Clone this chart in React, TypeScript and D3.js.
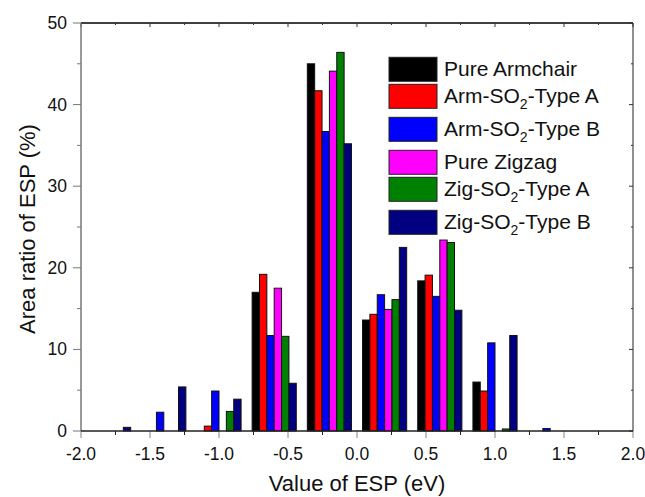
import React, { useRef, useEffect } from "react";
import * as d3 from "d3";

// bin centres of the ESP histogram (eV)
const bins = [-1.8, -1.4, -1.0, -0.6, -0.2, 0.2, 0.6, 1.0, 1.4];

const pureArmchair = [0, 0, 0, 17.0, 45.0, 13.6, 18.4, 6.0, 0];
const armTypeA = [0, 0, 0.6, 19.2, 41.7, 14.3, 19.1, 4.9, 0];
const armTypeB = [0, 2.3, 4.9, 11.7, 36.7, 16.7, 16.5, 10.8, 0.3];
const pureZigzag = [0, 0, 0, 17.5, 44.1, 14.9, 23.4, 0, 0];
const zigTypeA = [0, 0, 2.4, 11.6, 46.4, 16.1, 23.1, 0.25, 0];
const zigTypeB = [0.45, 5.4, 3.9, 5.85, 35.2, 22.5, 14.8, 11.7, 0];

const xTicks = [-2.0, -1.5, -1.0, -0.5, 0.0, 0.5, 1.0, 1.5, 2.0];
const yTicks = [0, 10, 20, 30, 40, 50];

interface Series {
  pre: string;
  sub?: string;
  post?: string;
  color: string;
  values: number[];
}

const series: Series[] = [
  { pre: "Pure Armchair", color: "#000000", values: pureArmchair },
  { pre: "Arm-SO", sub: "2", post: "-Type A", color: "#ff0000", values: armTypeA },
  { pre: "Arm-SO", sub: "2", post: "-Type B", color: "#0000ff", values: armTypeB },
  { pre: "Pure Zigzag", color: "#ff00ff", values: pureZigzag },
  { pre: "Zig-SO", sub: "2", post: "-Type A", color: "#008000", values: zigTypeA },
  { pre: "Zig-SO", sub: "2", post: "-Type B", color: "#000080", values: zigTypeB },
];

const W = 645;
const H = 497;
const margin = { left: 81, right: 12, top: 23, bottom: 66 };
const FONT = "'Liberation Sans', Arial, sans-serif";

export default function App() {
  const svgRef = useRef<SVGSVGElement>(null);

  useEffect(() => {
    if (!svgRef.current) return;
    const svg = d3.select(svgRef.current);
    svg.selectAll("*").remove();

    const x = d3
      .scaleLinear()
      .domain([-2, 2])
      .range([margin.left, W - margin.right]);
    const y = d3
      .scaleLinear()
      .domain([0, 50])
      .range([H - margin.bottom, margin.top]);

    // 80% of each 0.4 eV bin is filled by the 6 bars
    const groupPx = x(0.4 * 0.8) - x(0);
    const sub = d3
      .scaleBand<number>()
      .domain(series.map((_, i) => i))
      .range([-groupPx / 2, groupPx / 2]);

    const x0 = margin.left;
    const x1 = W - margin.right;
    const y0 = H - margin.bottom;
    const y1 = margin.top;

    // bars
    series.forEach((s, si) => {
      svg
        .append("g")
        .selectAll("rect")
        .data(s.values.map((v, i) => ({ v, b: bins[i] })).filter((d) => d.v > 0))
        .enter()
        .append("rect")
        .attr("x", (d) => x(d.b) + (sub(si) as number))
        .attr("y", (d) => y(d.v))
        .attr("width", sub.bandwidth())
        .attr("height", (d) => y(0) - y(d.v))
        .attr("fill", s.color)
        .attr("stroke", "#111")
        .attr("stroke-width", 1);
    });

    // frame
    svg.append("line").attr("x1", x0).attr("x2", x1).attr("y1", y1).attr("y2", y1)
      .attr("stroke", "#000").attr("stroke-width", 1.3);
    svg.append("line").attr("x1", x1).attr("x2", x1).attr("y1", y1).attr("y2", y0)
      .attr("stroke", "#555").attr("stroke-width", 1.3);

    // major + minor ticks
    const xMinor = d3.range(-2, 2.001, 0.25);
    const yMinor = d3.range(0, 50.001, 5);

    const ax = svg.append("g");
    xMinor.forEach((v) => {
      const major = Math.abs(v * 2 - Math.round(v * 2)) < 1e-6;
      ax.append("line")
        .attr("x1", x(v)).attr("x2", x(v))
        .attr("y1", y0).attr("y2", y0 + (major ? 7 : 4))
        .attr("stroke", major ? "#888" : "#222").attr("stroke-width", 1);
      ax.append("line")
        .attr("x1", x(v)).attr("x2", x(v))
        .attr("y1", y1).attr("y2", y1 + (major ? 4 : 2))
        .attr("stroke", "#333").attr("stroke-width", 1);
    });
    yMinor.forEach((v) => {
      const major = v % 10 === 0;
      ax.append("line")
        .attr("x1", x0 - (major ? 8 : 4)).attr("x2", x0)
        .attr("y1", y(v)).attr("y2", y(v))
        .attr("stroke", "#777").attr("stroke-width", 1);
      ax.append("line")
        .attr("x1", x1 - (major ? 4 : 2)).attr("x2", x1)
        .attr("y1", y(v)).attr("y2", y(v))
        .attr("stroke", "#333").attr("stroke-width", 1);
    });

    // axis lines
    svg.append("line").attr("x1", x0).attr("x2", x0).attr("y1", y1).attr("y2", y0)
      .attr("stroke", "#777").attr("stroke-width", 1.5);
    svg.append("line").attr("x1", x0).attr("x2", x1).attr("y1", y0).attr("y2", y0)
      .attr("stroke", "#222").attr("stroke-width", 1.5);

    // tick labels
    svg
      .append("g")
      .selectAll("text")
      .data(xTicks)
      .enter()
      .append("text")
      .attr("x", (d) => x(d))
      .attr("y", y0 + 29)
      .attr("text-anchor", "middle")
      .style("font-family", FONT)
      .style("font-size", "17.5px")
      .attr("fill", "#111")
      .text((d) => d.toFixed(1));

    svg
      .append("g")
      .selectAll("text")
      .data(yTicks)
      .enter()
      .append("text")
      .attr("x", x0 - 14)
      .attr("y", (d) => y(d) + 6)
      .attr("text-anchor", "end")
      .style("font-family", FONT)
      .style("font-size", "17.5px")
      .attr("fill", "#111")
      .text((d) => String(d));

    // axis titles
    svg
      .append("text")
      .attr("x", (x0 + x1) / 2)
      .attr("y", 491)
      .attr("text-anchor", "middle")
      .style("font-family", FONT)
      .style("font-size", "22px")
      .attr("fill", "#111")
      .text("Value of ESP (eV)");

    svg
      .append("text")
      .attr("transform", `translate(35, ${(y0 + y1) / 2 + 2}) rotate(-90)`)
      .attr("text-anchor", "middle")
      .style("font-family", FONT)
      .style("font-size", "22px")
      .attr("fill", "#111")
      .text("Area ratio of ESP (%)");

    // legend
    const lg = svg.append("g");
    let top = 57.3;
    series.forEach((s, i) => {
      if (i > 0) top += 27 + (series[i - 1].sub ? 6 : 0);
      lg.append("rect")
        .attr("x", 389)
        .attr("y", top)
        .attr("width", 48)
        .attr("height", 24)
        .attr("fill", s.color)
        .attr("stroke", "#222")
        .attr("stroke-width", 1);
      const t = lg
        .append("text")
        .attr("x", 444)
        .attr("y", top + 18.5)
        .style("font-family", FONT)
        .style("font-size", "21px")
        .attr("fill", "#111");
      t.append("tspan").text(s.pre);
      if (s.sub) {
        t.append("tspan").attr("dy", 6).style("font-size", "14px").text(s.sub);
        t.append("tspan").attr("dy", -6).text(s.post || "");
      }
    });
  }, []);

  return (
    <svg
      ref={svgRef}
      width={W}
      height={H}
      style={{ position: "absolute", left: 0, top: 0, background: "#fff" }}
    />
  );
}
